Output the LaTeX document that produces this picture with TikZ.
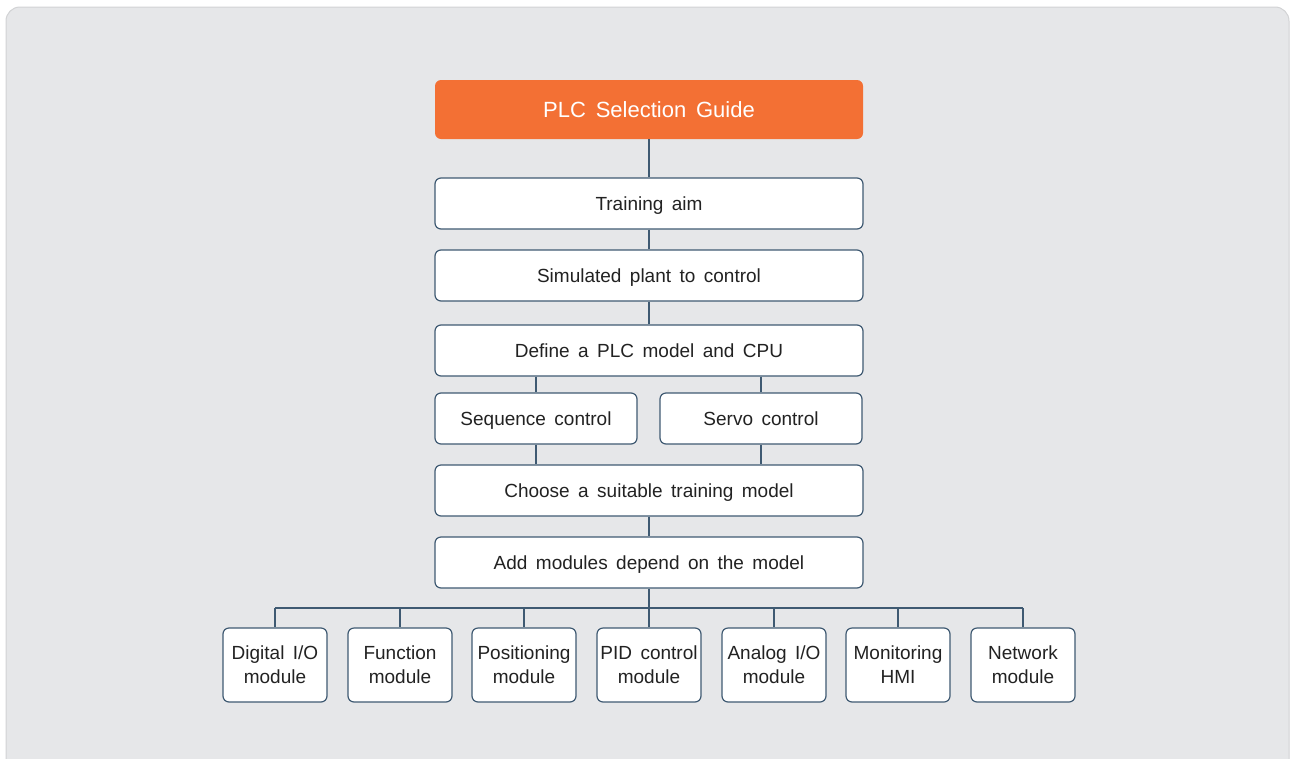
\documentclass[tikz,border=0pt]{standalone}
\usepackage{fontspec}
\setmainfont[WordSpace=1.6]{Liberation Sans}
\definecolor{bgfill}{HTML}{E6E7E9}
\definecolor{bgline}{HTML}{D2D3D5}
\definecolor{boxline}{HTML}{3F5A72}
\definecolor{orange}{HTML}{F37034}
\definecolor{txt}{HTML}{222222}
\begin{document}
\begin{tikzpicture}[x=1pt,y=-1pt,
  stepbox/.style={draw=boxline, line width=1.2pt, fill=white, rounded corners=6pt,
    minimum width=428pt, minimum height=51pt, inner sep=0pt, text=txt,
    text height=15pt, text depth=2pt,
    font=\fontsize{19}{24}\selectfont},
  halfbox/.style={stepbox, minimum width=202pt},
  modbox/.style={draw=boxline, line width=1.2pt, fill=white, rounded corners=6pt,
    minimum width=104pt, minimum height=74pt, inner sep=0pt, text=txt, align=center,
    font=\fontsize{19}{24}\selectfont},
  titlebox/.style={fill=orange, rounded corners=6pt, minimum width=428pt, minimum height=59pt,
    inner sep=0pt, text=white, text height=17pt, text depth=1pt,
    font=\fontsize{22}{26}\selectfont},
  conn/.style={draw=boxline, line width=1.2pt}]
\useasboundingbox (0,0) rectangle (1290,758);
\fill[white] (0,0) rectangle (1290,758);
\draw[bgline, fill=bgfill, line width=1pt, rounded corners=14pt] (6,7) rectangle (1289,790);

\node[titlebox] (title) at (649,109.5) {PLC Selection Guide};
\node[stepbox] (aim) at (649,203.5) {Training aim};
\node[stepbox] (plant) at (649,275.5) {Simulated plant to control};
\node[stepbox] (cpu) at (649,350.5) {Define a PLC model and CPU};
\node[halfbox] (seq) at (536,418.5) {Sequence control};
\node[halfbox] (servo) at (761,418.5) {Servo control};
\node[stepbox] (choose) at (649,490.5) {Choose a suitable training model};
\node[stepbox] (add) at (649,562.5) {Add modules depend on the model};

\node[modbox] (m1) at (275,665) {Digital I/O\\module};
\node[modbox] (m2) at (400,665) {Function\\module};
\node[modbox] (m3) at (524,665) {Positioning\\module};
\node[modbox] (m4) at (649,665) {PID control\\module};
\node[modbox] (m5) at (774,665) {Analog I/O\\module};
\node[modbox] (m6) at (898,665) {Monitoring\\HMI};
\node[modbox] (m7) at (1023,665) {Network\\module};

\coordinate (bus) at (649,608);

\draw[conn] (title.south) -- (aim.north);
\draw[conn] (aim.south) -- (plant.north);
\draw[conn] (plant.south) -- (cpu.north);
\draw[conn] (seq.north |- cpu.south) -- (seq.north);
\draw[conn] (servo.north |- cpu.south) -- (servo.north);
\draw[conn] (seq.south) -- (seq.south |- choose.north);
\draw[conn] (servo.south) -- (servo.south |- choose.north);
\draw[conn] (choose.south) -- (add.north);
\draw[conn] (add.south) -- (m4.north);
\draw[conn] (m1.north |- bus) -- (m7.north |- bus);
\foreach \m in {m1,m2,m3,m5,m6,m7} \draw[conn] (\m.north |- bus) -- (\m.north);
\end{tikzpicture}
\end{document}
